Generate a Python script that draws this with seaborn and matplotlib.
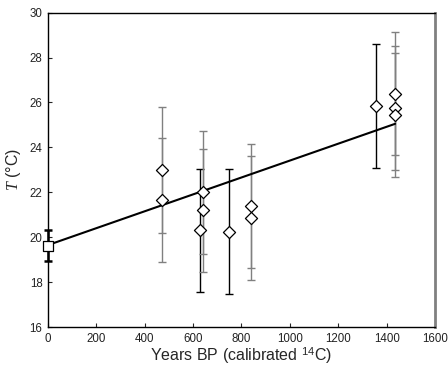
import seaborn as sns
import pandas as pd
import matplotlib.pyplot as plt

# data
years = [470, 470, 630, 640, 640, 750, 840, 840, 1355, 1435, 1435, 1435]
temps = [23.0, 21.65, 20.3, 22.0, 21.2, 20.25, 21.4, 20.85, 25.85, 26.4, 25.75, 25.45]
errs = [2.8, 2.75, 2.75, 2.75, 2.75, 2.77, 2.75, 2.75, 2.75, 2.75, 2.75, 2.75]
bar_dark = [False, False, True, False, False, True, False, False, True, False, False, False]
modern_year = [0]
modern_temp = [19.62]
modern_err = [0.7]
fit_years = [0, 1435]
fit_temps = [19.65, 25.05]


def plot_temps():
    sns.set_style('ticks')
    plt.rcParams['font.family'] = ['Liberation Sans', 'DejaVu Sans']
    plt.rcParams['mathtext.fontset'] = 'custom'
    plt.rcParams['mathtext.it'] = 'Liberation Serif:italic'
    plt.rcParams['mathtext.rm'] = 'Liberation Sans'
    df = pd.DataFrame({'year': years, 'T': temps, 'err': errs, 'dark': bar_dark})

    fig = plt.figure(figsize=(4.48, 3.68), dpi=100)
    ax = fig.add_axes([0.1071, 0.1114, 0.8639, 0.8541])

    # error bars, some black, some grey
    for _, r in df.iterrows():
        c = 'black' if r['dark'] else '#808080'
        ax.errorbar(r['year'], r['T'], yerr=r['err'], fmt='none', ecolor=c,
                    elinewidth=1.0, capsize=2.6, capthick=1.0, zorder=2)
    ax.errorbar(modern_year, modern_temp, yerr=modern_err, fmt='none', ecolor='black',
                elinewidth=1.8, capsize=2.6, capthick=1.8, zorder=2, clip_on=False)

    sns.lineplot(x=fit_years, y=fit_temps, color='black', linewidth=1.5, ax=ax, zorder=3)
    sns.scatterplot(data=df, x='year', y='T', marker='D', s=38, facecolor='white',
                    edgecolor='black', linewidth=0.9, ax=ax, zorder=4)
    sns.scatterplot(x=modern_year, y=modern_temp, marker='s', s=45, facecolor='white',
                    edgecolor='black', linewidth=0.9, ax=ax, zorder=4, clip_on=False)

    ax.set_xlim(0, 1600)
    ax.set_ylim(16, 30)
    ax.set_xticks(range(0, 1601, 200))
    ax.set_yticks(range(16, 31, 2))
    ax.tick_params(direction='in', labelsize=8.3, length=3, width=0.8, pad=4,
                   labelcolor='#222222')
    ax.set_xlabel('Years BP (calibrated $^{14}$C)', fontsize=11.5, labelpad=0)
    ax.set_ylabel('$T$ (°C)', fontsize=11.5, labelpad=5)
    for s in ['left', 'bottom', 'top']:
        ax.spines[s].set_color('black')
        ax.spines[s].set_linewidth(1.0)
    ax.spines['right'].set_color('#808080')
    ax.spines['right'].set_linewidth(2.0)
    fig.savefig('out.png', dpi=100)


if __name__ == '__main__':
    plot_temps()
